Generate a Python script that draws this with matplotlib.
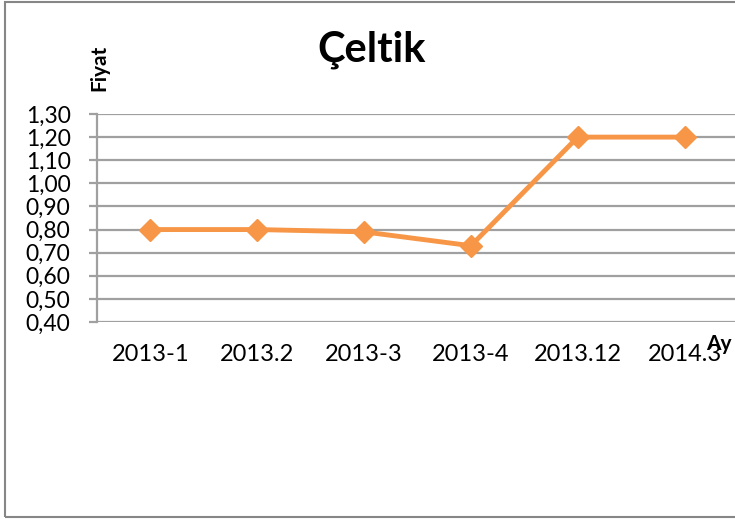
import matplotlib
matplotlib.use("Agg")
import matplotlib.pyplot as plt
from matplotlib.patches import Rectangle
from matplotlib.ticker import FuncFormatter

months = ["2013-1", "2013.2", "2013-3", "2013-4", "2013.12", "2014.3"]
prices = [0.80, 0.80, 0.79, 0.73, 1.20, 1.20]
y_ticks = [0.40, 0.50, 0.60, 0.70, 0.80, 0.90, 1.00, 1.10, 1.20, 1.30]

plt.rcParams["font.family"] = ["Lato", "DejaVu Sans"]

W, H = 735, 519
fig = plt.figure(figsize=(W / 100, H / 100), dpi=100)

# outer chart border
fig.patches.append(Rectangle((5 / W, 2 / H), 740 / W, 515 / H,
                             transform=fig.transFigure, fill=False,
                             ec="#868686", lw=1.5))

ax = fig.add_axes([97 / W, (H - 322) / H, 641 / W, 208 / H])
ax.set_facecolor("none")
x = list(range(len(months)))
ax.plot(x, prices, color="#F79646", lw=3.5, marker="D", ms=11,
        mec="#F79646", mfc="#F79646", zorder=3, clip_on=False)

ax.set_xlim(-0.5, len(months) - 0.5)
ax.set_ylim(0.40, 1.30)
ax.set_yticks(y_ticks)
ax.yaxis.set_major_formatter(FuncFormatter(lambda v, _: f"{v:.2f}".replace(".", ",")))
ax.set_xticks(x)
ax.set_xticklabels(months)
ax.grid(axis="y", color="#a0a0a0", lw=1.6)
ax.set_axisbelow(True)
for side in ["top", "right", "bottom"]:
    ax.spines[side].set_visible(False)
ax.spines["left"].set_color("#a0a0a0")
ax.spines["left"].set_linewidth(1.6)
ax.tick_params(axis="y", length=6, width=1.6, color="#a0a0a0",
               labelsize=16.5, pad=13)
ax.tick_params(axis="x", length=0, labelsize=17, pad=16)

fig.text(372 / W, 1 - 50 / H, "Çeltik", fontsize=30, fontweight="bold",
         ha="center", va="center")
fig.text(99 / W, 1 - 68 / H, "Fiyat", fontsize=15, fontweight="bold",
         rotation=90, ha="center", va="center")
fig.text(732 / W, 1 - 344 / H, "Ay", fontsize=15, fontweight="bold",
         ha="right", va="center", zorder=5)

fig.savefig("out.png", dpi=100)
